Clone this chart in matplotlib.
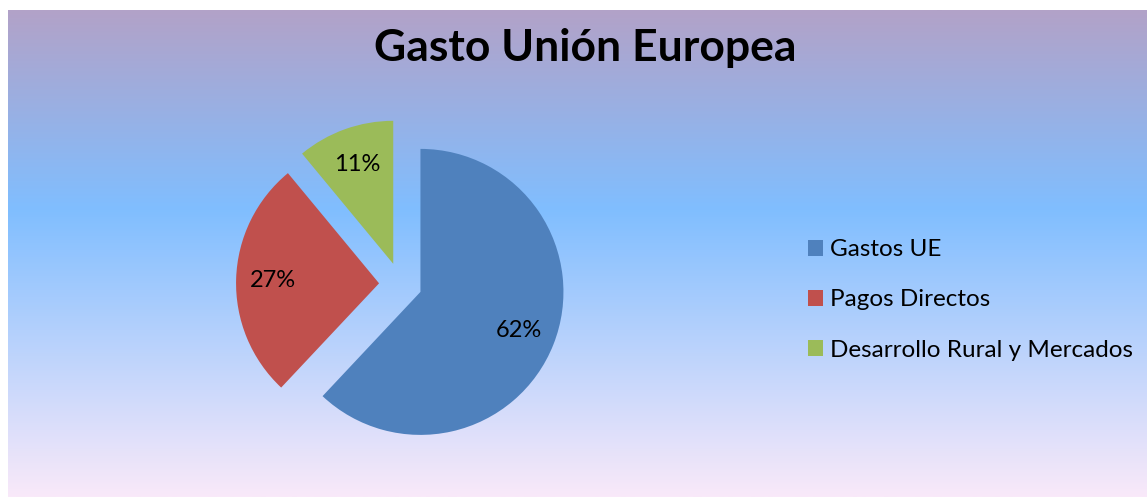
import numpy as np
import matplotlib.pyplot as plt
from matplotlib.colors import LinearSegmentedColormap

# Data
labels = ["Gastos UE", "Pagos Directos", "Desarrollo Rural y Mercados"]
values = [62, 27, 11]
colors = ["#4f81bd", "#c0504d", "#9bbb59"]

W, H = 1148, 499
fig = plt.figure(figsize=(W / 100, H / 100), dpi=100)
fig.patch.set_facecolor("white")

# gradient background panel
bg = fig.add_axes([8 / W, 2 / H, 1139 / W, 487 / H])
bg.set_axis_off()
cmap = LinearSegmentedColormap.from_list(
    "bg",
    [(0.0, (178/255, 162/255, 200/255)),
     (0.41, (128/255, 190/255, 255/255)),
     (1.0, (249/255, 233/255, 249/255))])
grad = np.linspace(0, 1, 256).reshape(-1, 1)
bg.imshow(grad, aspect="auto", cmap=cmap, extent=[0, 1, 0, 1], origin="upper")

fig.text(585 / W, 1 - 48 / H, "Gasto Unión Europea", ha="center", va="center",
         fontsize=32, fontweight="bold", family="Lato")

# pie axes, radius 143 px, centre at (400.5, 284)
size = 429
ax = fig.add_axes([(400.5 - size / 2) / W, (H - 284 - size / 2) / H, size / W, size / H])
wedges, texts, autotexts = ax.pie(
    values, colors=colors, startangle=90, counterclock=False,
    explode=[0.15, 0.15, 0.15], autopct="%1.0f%%", pctdistance=0.74,
    textprops=dict(fontsize=17, family="Lato", color="black"))
ax.set_xlim(-1.5, 1.5)
ax.set_ylim(-1.5, 1.5)
ax.set_aspect("equal")
ax.set_axis_off()

fig.legend(wedges, labels, loc="center left",
           bbox_to_anchor=(786 / W, 1 - 300 / H), frameon=False,
           prop=dict(family="Lato", size=17.5), handlelength=0.62, handleheight=0.62,
           handletextpad=0.3, labelspacing=1.2)

fig.savefig("out.png", dpi=100)
